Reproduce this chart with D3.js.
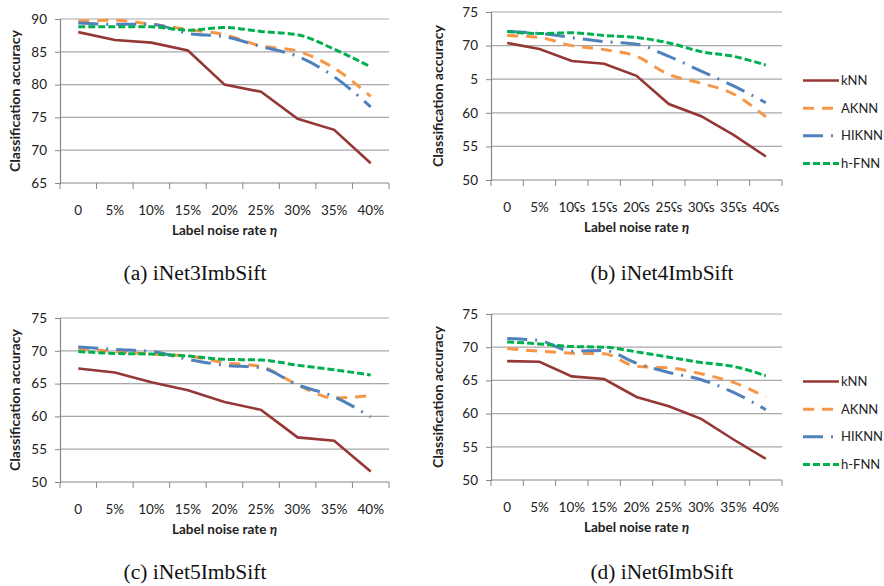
<!DOCTYPE html>
<html>
<head>
<meta charset="utf-8">
<script src="https://cdn.jsdelivr.net/npm/d3@7"></script>
<style>
  body { margin: 0; background: #fff; }
  svg { display: block; }
</style>
</head>
<body>
<div id="chart"></div>
<script>
const WIDTH = 884
const HEIGHT = 586

const SERIES_NAMES = ['kNN', 'AKNN', 'HIKNN', 'h-FNN'];
const COLORS = ['#953735', '#F79646', '#4F81BD', '#00B050'];
const DASHES = [null, '11,8', '20,8,2,8', '7,3'];

// x categories (panel b had a broken percent glyph in the source)
const noiseRates = ['0', '5%', '10%', '15%', '20%', '25%', '30%', '35%', '40%'];
const noiseRatesB = ['0', '5%', '10ʢs', '15ʢs', '20ʢs', '25ʢs', '30ʢs', '35ʢs', '40ʢs'];

const yTicksA = [65, 70, 75, 80, 85, 90];
const yTicksB = [50, 55, 60, 65, 70, 75];
const yTickLabelsB = ['50', '55', '60', '5', '70', '75'];

// (a) iNet3ImbSift
const knnA   = [88.0, 86.8, 86.4, 85.2, 80.0, 78.9, 74.8, 73.1, 68.0];
const aknnA  = [89.7, 89.8, 89.2, 88.4, 87.6, 85.9, 85.1, 82.5, 78.2];
const hiknnA = [89.4, 89.2, 89.2, 87.8, 87.3, 85.8, 84.3, 81.2, 76.6];
const hfnnA  = [88.8, 88.8, 88.8, 88.3, 88.7, 88.1, 87.6, 85.4, 82.7];

// (b) iNet4ImbSift
const knnB   = [70.4, 69.5, 67.7, 67.3, 65.5, 61.3, 59.5, 56.7, 53.5];
const aknnB  = [71.5, 71.2, 70.0, 69.4, 68.4, 65.7, 64.4, 62.8, 59.4];
const hiknnB = [72.1, 71.8, 71.2, 70.6, 70.2, 68.4, 66.2, 64.0, 61.5];
const hfnnB  = [72.1, 71.8, 71.9, 71.5, 71.2, 70.4, 69.1, 68.4, 67.1];

// (c) iNet5ImbSift
const knnC   = [67.3, 66.7, 65.2, 64.0, 62.2, 61.0, 56.8, 56.3, 51.6];
const aknnC  = [70.4, 69.9, 69.5, 69.2, 68.2, 67.6, 64.8, 62.8, 63.2];
const hiknnC = [70.6, 70.2, 69.9, 68.7, 67.8, 67.4, 64.8, 63.0, 59.9];
const hfnnC  = [69.9, 69.6, 69.5, 69.2, 68.7, 68.6, 67.8, 67.1, 66.3];

// (d) iNet6ImbSift
const knnD   = [67.9, 67.8, 65.6, 65.2, 62.5, 61.1, 59.2, 56.1, 53.2];
const aknnD  = [69.8, 69.4, 69.1, 69.0, 67.1, 66.9, 66.0, 64.7, 62.5];
const hiknnD = [71.3, 71.0, 69.4, 69.5, 67.6, 66.2, 65.1, 63.2, 60.6];
const hfnnD  = [70.8, 70.5, 70.1, 70.0, 69.3, 68.5, 67.7, 67.1, 65.7];

const panels = [
    { caption: '(a) iNet3ImbSift', cats: noiseRates, ticks: yTicksA, tickLabels: null,
      series: [knnA, aknnA, hiknnA, hfnnA], box: [60, 389, 19, 183], titleX: 15, legend: false, capX: 195, capY: 273 },
    { caption: '(b) iNet4ImbSift', cats: noiseRatesB, ticks: yTicksB, tickLabels: yTickLabelsB,
      series: [knnB, aknnB, hiknnB, hfnnB], box: [491, 782, 12, 180], titleX: 438, legend: true, capX: 662, capY: 273 },
    { caption: '(c) iNet5ImbSift', cats: noiseRates, ticks: yTicksB, tickLabels: null,
      series: [knnC, aknnC, hiknnC, hfnnC], box: [60, 389, 318, 482], titleX: 15, legend: false, capX: 195, capY: 572 },
    { caption: '(d) iNet6ImbSift', cats: noiseRates, ticks: yTicksB, tickLabels: null,
      series: [knnD, aknnD, hiknnD, hfnnD], box: [491, 782, 314, 480], titleX: 438, legend: true, capX: 662, capY: 572 }
];

const FONT = "Lato, 'Open Sans', sans-serif";

var svg = d3.select("#chart").append("svg")
    .attr("width", WIDTH)
    .attr("height", HEIGHT);

panels.forEach(p => {
    const [x0, x1, y0, y1] = p.box;
    const g = svg.append("g");

    var xScale = d3.scaleBand()
        .domain(p.cats)
        .range([x0, x1]);

    var yScale = d3.scaleLinear()
        .domain([p.ticks[0], p.ticks[p.ticks.length - 1]])
        .range([y1, y0]);

    // gridlines
    g.selectAll(".grid")
        .data(p.ticks.slice(1))
        .enter().append("line")
        .attr("x1", x0).attr("x2", x1)
        .attr("y1", d => yScale(d)).attr("y2", d => yScale(d))
        .attr("stroke", "#a8a8a8")
        .attr("stroke-width", 1.2);

    // y axis
    var yAxis = d3.axisLeft(yScale)
        .tickValues(p.ticks)
        .tickSize(5)
        .tickPadding(8)
        .tickFormat((d, i) => p.tickLabels ? p.tickLabels[i] : d);
    var ya = g.append("g")
        .attr("transform", `translate(${x0},0)`)
        .call(yAxis);
    ya.select(".domain").attr("stroke", "#888").attr("stroke-width", 1.2);
    ya.selectAll(".tick line").attr("stroke", "#888");
    ya.selectAll("text").attr("font-size", "13.5px").attr("font-family", FONT).attr("fill", "#222");

    // x axis, ticks sit on band boundaries
    var boundaries = p.cats.map(c => xScale(c)).concat([x1]);
    g.append("line")
        .attr("x1", x0).attr("x2", x1)
        .attr("y1", y1).attr("y2", y1)
        .attr("stroke", "#888").attr("stroke-width", 1.2);
    g.selectAll(".xtick")
        .data(boundaries)
        .enter().append("line")
        .attr("x1", d => d).attr("x2", d => d)
        .attr("y1", y1).attr("y2", y1 + 6)
        .attr("stroke", "#888");
    g.selectAll(".xlabel")
        .data(p.cats)
        .enter().append("text")
        .attr("x", d => xScale(d) + xScale.bandwidth() / 2)
        .attr("y", y1 + 32)
        .attr("text-anchor", "middle")
        .attr("font-size", "13.5px")
        .attr("font-family", FONT)
        .attr("fill", "#222")
        .text(d => d);

    // axis titles
    var xt = g.append("text")
        .attr("x", (x0 + x1) / 2)
        .attr("y", y1 + 52)
        .attr("text-anchor", "middle")
        .attr("font-size", "13.5px")
        .attr("font-weight", "bold")
        .attr("font-family", FONT)
        .attr("fill", "#222");
    xt.append("tspan").text("Label noise rate ");
    xt.append("tspan").attr("font-style", "italic").text("η");

    g.append("text")
        .attr("transform", `translate(${p.titleX},${(y0 + y1) / 2}) rotate(-90)`)
        .attr("text-anchor", "middle")
        .attr("dy", "0.35em")
        .attr("font-size", "13px")
        .attr("font-weight", "bold")
        .attr("font-family", FONT)
        .attr("fill", "#222")
        .attr("textLength", 142)
        .attr("lengthAdjust", "spacingAndGlyphs")
        .text("Classification accuracy");

    // lines
    p.series.forEach((vals, i) => {
        var line = d3.line()
            .x((d, j) => xScale(p.cats[j]) + xScale.bandwidth() / 2)
            .y(d => yScale(d))
            .curve(i === 0 ? d3.curveLinear : d3.curveMonotoneX);
        g.append("path")
            .datum(vals)
            .attr("fill", "none")
            .attr("stroke", COLORS[i])
            .attr("stroke-width", i === 0 ? 2.6 : 3)
            .attr("stroke-dasharray", DASHES[i])
            .attr("d", line);
    });

    // legend
    if (p.legend) {
        var mid = (y0 + y1) / 2 + 26;
        var legendScale = d3.scalePoint()
            .domain(SERIES_NAMES)
            .range([mid - 41.5, mid + 41.5]);
        var items = g.selectAll(".leg")
            .data(SERIES_NAMES)
            .enter().append("g")
            .attr("transform", d => `translate(803,${legendScale(d)})`);
        items.append("line")
            .attr("x1", 0).attr("x2", 36)
            .attr("stroke", (d, i) => COLORS[i])
            .attr("stroke-width", (d, i) => i === 0 ? 2.6 : 3)
            .attr("stroke-dasharray", (d, i) => DASHES[i]);
        items.append("text")
            .attr("x", 38)
            .attr("dy", "0.35em")
            .attr("font-size", "13px")
            .attr("font-family", FONT)
            .attr("fill", "#222")
            .text(d => d);
    }

    // caption
    svg.append("text")
        .attr("x", p.capX)
        .attr("y", p.capY)
        .attr("dy", "0.35em")
        .attr("text-anchor", "middle")
        .attr("font-size", "20px")
        .attr("font-family", "'Liberation Serif', 'DejaVu Serif', serif")
        .attr("fill", "#111")
        .attr("textLength", 143)
        .attr("lengthAdjust", "spacingAndGlyphs")
        .text(p.caption);
});
</script>
</body>
</html>
